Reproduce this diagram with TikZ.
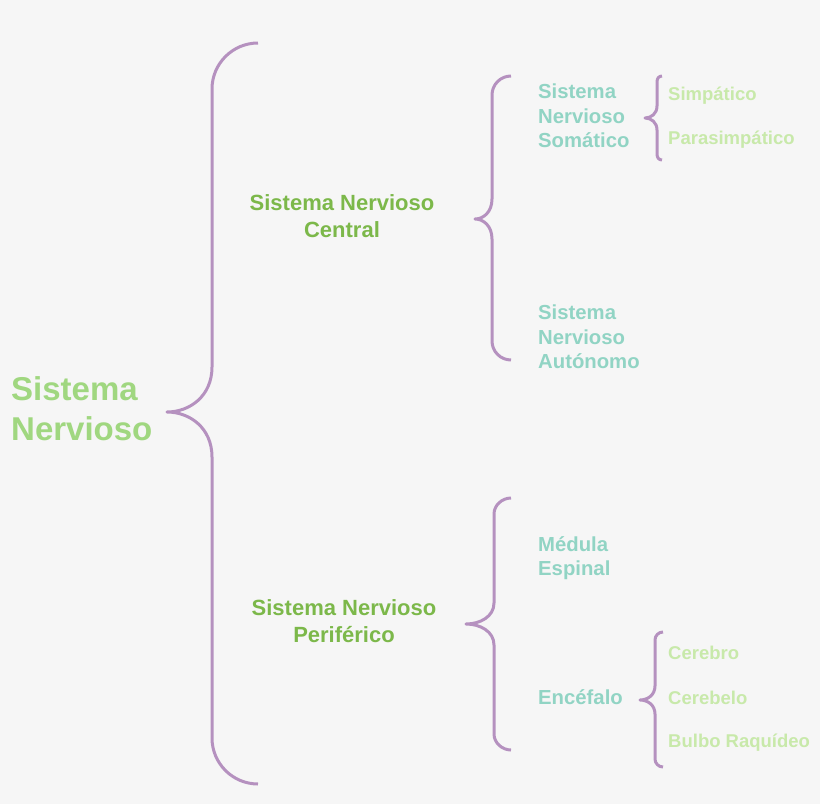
\documentclass[tikz,border=0pt]{standalone}
\usepackage{fontspec}
\setmainfont{Liberation Sans}
\usetikzlibrary{positioning}
\definecolor{bgcolor}{RGB}{246,246,246}
\definecolor{bracecolor}{RGB}{181,145,191}
\definecolor{titlecolor}{RGB}{160,215,128}
\definecolor{maincolor}{RGB}{124,184,74}
\definecolor{tealcolor}{RGB}{145,212,196}
\definecolor{leafcolor}{RGB}{200,233,170}
% brace: top end x, top y, bottom y, stem x, tip x, tip y, corner r, tip h
\newcommand{\nervebrace}[8]{%
  \draw[bracecolor,line width=3pt,line join=round]
    (#1,#2) .. controls ({#1-0.552*#7},#2) and (#4,{#2+0.448*#7}) .. (#4,{#2+#7})
    -- (#4,{#6-#8}) .. controls (#4,{#6-0.35*#8}) and ({(#4+#5)/2},#6) .. (#5,#6)
    .. controls ({(#4+#5)/2},#6) and (#4,{#6+0.35*#8}) .. (#4,{#6+#8})
    -- (#4,{#3-#7}) .. controls (#4,{#3-0.448*#7}) and ({#1-0.552*#7},#3) .. (#1,#3);}
\begin{document}
\begin{tikzpicture}[x=1pt,y=-1pt,font=\bfseries,
  title/.style={anchor=west,align=left,text=titlecolor,inner sep=0pt,
    font=\fontsize{33}{40}\selectfont\bfseries},
  level/.style={align=center,text=maincolor,inner sep=0pt,
    font=\fontsize{22}{27}\selectfont\bfseries},
  sub/.style={anchor=west,align=left,text=tealcolor,inner sep=0pt,
    font=\fontsize{20.3}{24.5}\selectfont\bfseries},
  leaf/.style={anchor=west,text=leafcolor,inner sep=0pt,
    font=\fontsize{18.5}{22}\selectfont\bfseries}]
  \fill[bgcolor] (0,0) rectangle (820,804);
  \useasboundingbox (0,0) rectangle (820,804);
  % texts
  \node[title] (SN) at (11,409) {Sistema\\Nervioso};
  \node[level] (SNC) at (342,216) {Sistema Nervioso\\Central};
  \node[level] (SNP) at (344,621) {Sistema Nervioso\\Periférico};
  \node[sub] (SNS) at (538,116) {Sistema\\Nervioso\\Somático};
  \node[sub] (SNA) at (538,337) {Sistema\\Nervioso\\Autónomo};
  \node[sub] (ME) at (538,558) {Médula\\Espinal};
  \node[sub] (EN) at (538,697) {Encéfalo};
  \node[leaf] (SIM) at (668,96) {Simpático};
  \node[leaf] (PAR) at (668,140) {Parasimpático};
  \node[leaf] (CER) at (668,653) {Cerebro};
  \node[leaf] (CEB) at (668,698) {Cerebelo};
  \node[leaf] (BR) at (668,743) {Bulbo Raquídeo};
  % braces
  \nervebrace{258}{43}{784}{212}{167}{412}{46}{45}
  \nervebrace{511}{76}{360}{492}{475}{219}{19}{20}
  \nervebrace{511}{498}{750}{494}{466}{624}{16}{21}
  \nervebrace{662}{76}{160}{657}{645}{118}{6}{12}
  \nervebrace{663}{632}{767}{655}{640}{700}{8}{14}
\end{tikzpicture}
\end{document}
